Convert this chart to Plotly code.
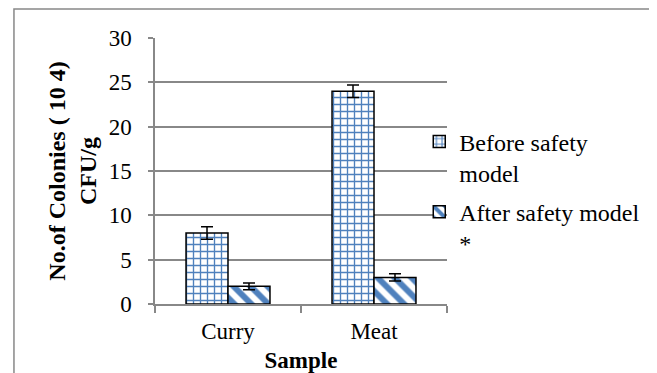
import plotly.graph_objects as go

categories = ["Curry", "Meat"]
before_vals = [8, 24]
before_err = [0.7, 0.7]
after_vals = [2, 3]
after_err = [0.38, 0.42]
series_names = ["Before safety<br>model", "After safety model<br>*"]
y_ticks = [0, 5, 10, 15, 20, 25, 30]

BLUE = "#4F81BD"
FONT = "Liberation Serif, Times New Roman, DejaVu Serif, serif"

fig = go.Figure()
fig.add_trace(go.Bar(
    x=categories, y=before_vals, name=series_names[0], legendgroup="a",
    marker=dict(color="white", line=dict(color="black", width=1.5),
                pattern=dict(shape="+", fgcolor=BLUE, bgcolor="white", fgopacity=1,
                             size=7, solidity=0.35)),
    error_y=dict(type="data", array=before_err, color="black", thickness=1.5, width=6),
))
fig.add_trace(go.Bar(
    x=categories, y=after_vals, name=series_names[1], legendgroup="b",
    marker=dict(color="white", line=dict(color="black", width=1.5),
                pattern=dict(shape="\\", fgcolor=BLUE, bgcolor="white", fgopacity=1,
                             size=12, solidity=0.5)),
    error_y=dict(type="data", array=after_err, color="black", thickness=1.5, width=6),
))

fig.update_layout(
    width=649, height=365,
    margin=dict(l=147, r=210, t=30, b=69, autoexpand=False),
    paper_bgcolor="white", plot_bgcolor="white",
    font=dict(family=FONT, size=23, color="black"),
    barmode="group", bargap=0.425, bargroupgap=0,
    legend=dict(x=0.905, y=0.42, xanchor="left", yanchor="middle",
                font=dict(family=FONT, size=24, color="black"),
                valign="top", tracegroupgap=5, traceorder="grouped",
                itemwidth=30, bgcolor="rgba(0,0,0,0)"),
    showlegend=True,
)
fig.update_xaxes(
    showline=True, linecolor="#888888", linewidth=1.5,
    ticks="outside", tickson="boundaries", ticklen=7, tickcolor="#888888", tickwidth=1.5,
    ticklabelstandoff=6,
    tickfont=dict(family=FONT, size=23),
    title=dict(text="<b>Sample</b>", font=dict(family=FONT, size=23), standoff=12),
)
fig.update_yaxes(
    range=[0, 30], tickvals=y_ticks,
    showline=True, linecolor="#888888", linewidth=1.5,
    ticks="outside", ticklen=5, tickcolor="#888888", tickwidth=1.5,
    ticklabelstandoff=12,
    showgrid=True, gridcolor="#888888", gridwidth=1.5,
    zeroline=False,
    tickfont=dict(family=FONT, size=23),
    title=dict(text="<b>No.of Colonies ( 10 4)<br>CFU/g</b>", font=dict(family=FONT, size=24), standoff=5),
)
fig.add_shape(type="rect", xref="paper", yref="paper",
              x0=-0.483, x1=2.0, y0=-1.0, y1=1.109,
              line=dict(color="#888888", width=1.5), fillcolor="rgba(0,0,0,0)", layer="below")

fig.write_html("out.html")
